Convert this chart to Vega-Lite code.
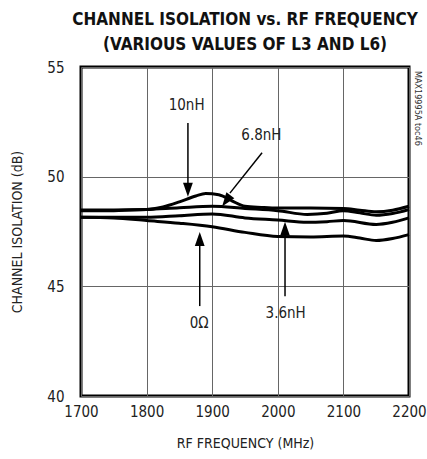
{
  "$schema": "https://vega.github.io/schema/vega-lite/v6.json",
  "width": 328,
  "height": 329,
  "autosize": "none",
  "padding": {"left": 81, "top": 67, "right": 18, "bottom": 63},
  "background": "white",
  "config": {
    "view": {"stroke": "black", "strokeWidth": 3},
    "font": "DejaVu Sans Condensed, Roboto, sans-serif",
    "axis": {
      "domain": false,
      "ticks": false,
      "grid": true,
      "gridColor": "#666",
      "gridWidth": 1,
      "gridOpacity": 1,
      "labelFont": "DejaVu Sans Condensed, Roboto, sans-serif",
      "labelFontSize": 15,
      "labelColor": "#222",
      "titleFont": "DejaVu Sans Condensed, Roboto, sans-serif",
      "titleFontSize": 14,
      "titleFontWeight": "normal",
      "titleColor": "#222"
    },
    "axisX": {"grid": true, "gridColor": "#666", "gridWidth": 1}
  },
  "title": {
    "text": ["CHANNEL ISOLATION vs. RF FREQUENCY", "(VARIOUS VALUES OF L3 AND L6)"],
    "font": "DejaVu Sans Condensed, Roboto, sans-serif",
    "fontSize": 17,
    "fontWeight": "bold",
    "lineHeight": 25,
    "anchor": "middle",
    "offset": 6,
    "color": "#111"
  },
  "datasets": {
    "curves": [
      {"f": 1700, "db": 48.48, "s": "10nH"},
      {"f": 1750, "db": 48.48, "s": "10nH"},
      {"f": 1800, "db": 48.5, "s": "10nH"},
      {"f": 1825, "db": 48.62, "s": "10nH"},
      {"f": 1850, "db": 48.85, "s": "10nH"},
      {"f": 1875, "db": 49.12, "s": "10nH"},
      {"f": 1890, "db": 49.23, "s": "10nH"},
      {"f": 1910, "db": 49.18, "s": "10nH"},
      {"f": 1930, "db": 48.9, "s": "10nH"},
      {"f": 1950, "db": 48.65, "s": "10nH"},
      {"f": 1975, "db": 48.6, "s": "10nH"},
      {"f": 2000, "db": 48.57, "s": "10nH"},
      {"f": 2050, "db": 48.57, "s": "10nH"},
      {"f": 2100, "db": 48.55, "s": "10nH"},
      {"f": 2125, "db": 48.47, "s": "10nH"},
      {"f": 2150, "db": 48.4, "s": "10nH"},
      {"f": 2175, "db": 48.47, "s": "10nH"},
      {"f": 2200, "db": 48.65, "s": "10nH"},
      {"f": 1700, "db": 48.45, "s": "6.8nH"},
      {"f": 1750, "db": 48.45, "s": "6.8nH"},
      {"f": 1800, "db": 48.5, "s": "6.8nH"},
      {"f": 1850, "db": 48.58, "s": "6.8nH"},
      {"f": 1900, "db": 48.65, "s": "6.8nH"},
      {"f": 1950, "db": 48.55, "s": "6.8nH"},
      {"f": 2000, "db": 48.45, "s": "6.8nH"},
      {"f": 2045, "db": 48.28, "s": "6.8nH"},
      {"f": 2075, "db": 48.33, "s": "6.8nH"},
      {"f": 2100, "db": 48.45, "s": "6.8nH"},
      {"f": 2125, "db": 48.35, "s": "6.8nH"},
      {"f": 2150, "db": 48.24, "s": "6.8nH"},
      {"f": 2175, "db": 48.32, "s": "6.8nH"},
      {"f": 2200, "db": 48.5, "s": "6.8nH"},
      {"f": 1700, "db": 48.15, "s": "3.6nH"},
      {"f": 1750, "db": 48.15, "s": "3.6nH"},
      {"f": 1800, "db": 48.15, "s": "3.6nH"},
      {"f": 1850, "db": 48.22, "s": "3.6nH"},
      {"f": 1900, "db": 48.3, "s": "3.6nH"},
      {"f": 1950, "db": 48.12, "s": "3.6nH"},
      {"f": 2000, "db": 48.02, "s": "3.6nH"},
      {"f": 2045, "db": 47.92, "s": "3.6nH"},
      {"f": 2075, "db": 47.95, "s": "3.6nH"},
      {"f": 2100, "db": 48.0, "s": "3.6nH"},
      {"f": 2150, "db": 47.82, "s": "3.6nH"},
      {"f": 2175, "db": 47.92, "s": "3.6nH"},
      {"f": 2200, "db": 48.12, "s": "3.6nH"},
      {"f": 1700, "db": 48.15, "s": "0"},
      {"f": 1750, "db": 48.12, "s": "0"},
      {"f": 1800, "db": 48.0, "s": "0"},
      {"f": 1850, "db": 47.88, "s": "0"},
      {"f": 1900, "db": 47.72, "s": "0"},
      {"f": 1950, "db": 47.46, "s": "0"},
      {"f": 2000, "db": 47.27, "s": "0"},
      {"f": 2050, "db": 47.25, "s": "0"},
      {"f": 2100, "db": 47.29, "s": "0"},
      {"f": 2125, "db": 47.2, "s": "0"},
      {"f": 2150, "db": 47.09, "s": "0"},
      {"f": 2175, "db": 47.18, "s": "0"},
      {"f": 2200, "db": 47.36, "s": "0"}
    ],
    "arrows": [
      {"x": 1863, "y": 52.45, "x2": 1863, "y2": 49.6},
      {"x": 1976, "y": 51.09, "x2": 1927, "y2": 49.25},
      {"x": 1881, "y": 44.1, "x2": 1881, "y2": 47.0},
      {"x": 2011, "y": 44.55, "x2": 2011, "y2": 47.45}
    ],
    "heads_down": [
      {"x": 1863, "y": 49.09, "a": 0},
      {"x": 1915, "y": 48.64, "a": 36.5}
    ],
    "heads_up": [
      {"x": 1881, "y": 47.48},
      {"x": 2011, "y": 47.94}
    ],
    "labels": [
      {"x": 1861, "y": 53.27, "t": "10nH"},
      {"x": 1975, "y": 51.9, "t": "6.8nH"},
      {"x": 1880, "y": 43.34, "t": "0Ω"},
      {"x": 2012, "y": 43.8, "t": "3.6nH"}
    ],
    "tag": [
      {"x": 2200, "y": 55, "t": "MAX19995A toc46"}
    ]
  },
  "layer": [
    {
      "data": {"name": "curves"},
      "mark": {"type": "line", "color": "black", "strokeWidth": 3, "interpolate": "monotone"},
      "encoding": {
        "x": {"field": "f", "type": "quantitative", "scale": {"domain": [1700, 2200], "nice": false, "zero": false}, "axis": {"grid": true, "format": "d", "labelFlush": false, "values": [1700, 1800, 1900, 2000, 2100, 2200], "title": "RF FREQUENCY (MHz)", "labelPadding": 8, "titlePadding": 17}},
        "y": {"field": "db", "type": "quantitative", "scale": {"domain": [40, 55], "nice": false, "zero": false}, "axis": {"grid": true, "labelFlush": false, "values": [40, 45, 50, 55], "title": "CHANNEL ISOLATION (dB)", "labelPadding": 17, "titlePadding": 22}},
        "detail": {"field": "s"}
      }
    },
    {
      "data": {"name": "arrows"},
      "mark": {"type": "rule", "color": "black", "strokeWidth": 1.5},
      "encoding": {
        "x": {"field": "x", "type": "quantitative"},
        "y": {"field": "y", "type": "quantitative"},
        "x2": {"field": "x2"},
        "y2": {"field": "y2"}
      }
    },
    {
      "data": {"name": "heads_down"},
      "mark": {"type": "point", "shape": "M0,0L-0.7,-2L0.7,-2Z", "size": 196, "filled": true, "color": "black", "opacity": 1},
      "encoding": {
        "x": {"field": "x", "type": "quantitative"},
        "y": {"field": "y", "type": "quantitative"},
        "angle": {"field": "a", "type": "quantitative", "scale": null}
      }
    },
    {
      "data": {"name": "heads_up"},
      "mark": {"type": "point", "shape": "M0,0L-0.7,2L0.7,2Z", "size": 196, "filled": true, "color": "black", "opacity": 1},
      "encoding": {
        "x": {"field": "x", "type": "quantitative"},
        "y": {"field": "y", "type": "quantitative"}
      }
    },
    {
      "data": {"name": "labels"},
      "mark": {"type": "text", "fontSize": 15, "font": "DejaVu Sans Condensed, Roboto, sans-serif", "color": "#222", "align": "center", "baseline": "middle"},
      "encoding": {
        "x": {"field": "x", "type": "quantitative"},
        "y": {"field": "y", "type": "quantitative"},
        "text": {"field": "t"}
      }
    },
    {
      "data": {"name": "tag"},
      "mark": {"type": "text", "fontSize": 9, "font": "DejaVu Sans Condensed, Roboto, sans-serif", "color": "#333", "align": "left", "baseline": "middle", "angle": 90, "dx": 4, "dy": -9},
      "encoding": {
        "x": {"field": "x", "type": "quantitative"},
        "y": {"field": "y", "type": "quantitative"},
        "text": {"field": "t"}
      }
    }
  ]
}
